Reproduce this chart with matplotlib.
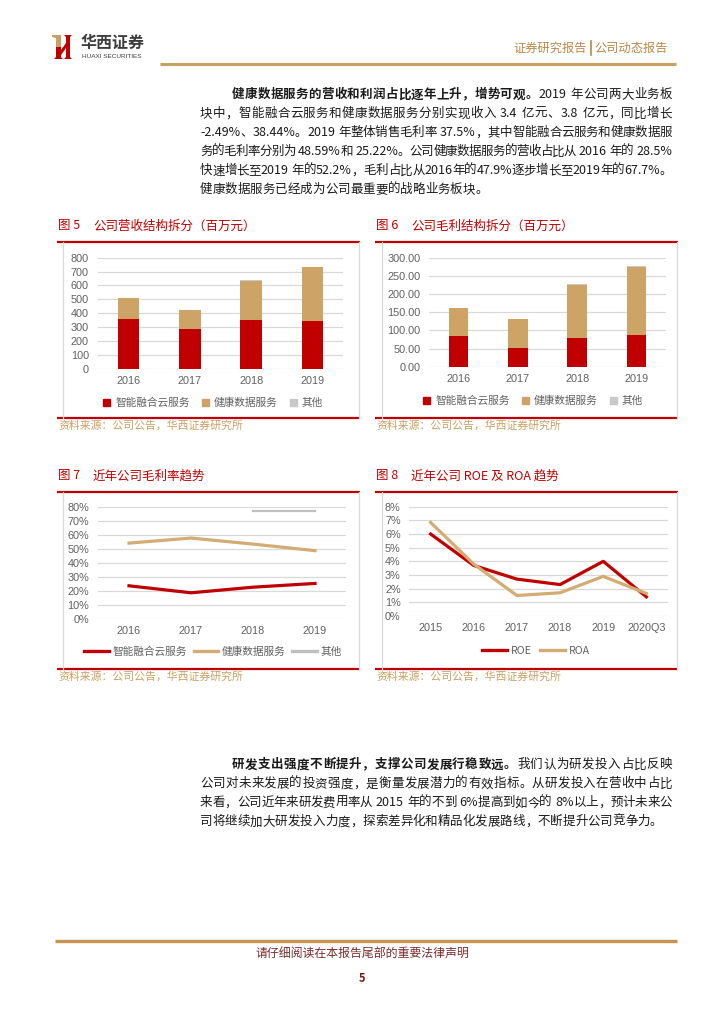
import re
import numpy as np
import matplotlib
matplotlib.use("Agg")
import matplotlib.pyplot as plt
import matplotlib.patches as mpatches
from matplotlib.lines import Line2D

plt.rcParams["font.family"] = ["Noto Sans CJK SC", "DejaVu Sans"]

W, H = 724, 1024
RED = "#C00000"
TAN = "#CDA366"
OTHER = "#C8C8C8"
GOLD = "#C9A063"
TICK = "#606060"
GRID = "#D9D9D9"

# ---- data ----
years4 = ["2016", "2017", "2018", "2019"]
series_names = ["智能融合云服务", "健康数据服务", "其他"]

rev_cloud = [358, 286, 353, 346]
rev_health = [149, 139, 279, 384]
rev_other = [0, 0, 5, 6]

gp_cloud = [83.5, 52.3, 78.9, 86.2]
gp_health = [78.0, 78.7, 146.8, 187.2]
gp_other = [0, 0, 2.0, 3.0]

gm_cloud = [23.5, 18.5, 22.5, 25.2]
gm_health = [54.0, 57.6, 53.3, 48.6]
gm_other = [np.nan, np.nan, 76.8, 76.8]

years6 = ["2015", "2016", "2017", "2018", "2019", "2020Q3"]
roe = [6.0, 3.7, 2.7, 2.3, 4.0, 1.4]
roa = [6.85, 3.8, 1.5, 1.7, 2.9, 1.65]

para1 = [
    [("健康数据服务的营收和利润占比逐年上升，增势可观。", True), ("2019 年公司两大业务板", False)],
    [("块中，智能融合云服务和健康数据服务分别实现收入 3.4 亿元、3.8 亿元，同比增长", False)],
    [("-2.49%、38.44%。2019 年整体销售毛利率 37.5%，其中智能融合云服务和健康数据服", False)],
    [("务的毛利率分别为 48.59%和 25.22%。公司健康数据服务的营收占比从 2016 年的 28.5%", False)],
    [("快速增长至2019 年的52.2%，毛利占比从2016年的47.9%逐步增长至2019年的67.7%。", False)],
    [("健康数据服务已经成为公司最重要的战略业务板块。", False)],
]
para2 = [
    [("研发支出强度不断提升，支撑公司发展行稳致远。", True), ("我们认为研发投入占比反映", False)],
    [("公司对未来发展的投资强度，是衡量发展潜力的有效指标。从研发投入在营收中占比", False)],
    [("来看，公司近年来研发费用率从 2015 年的不到 6%提高到如今的 8%以上，预计未来公", False)],
    [("司将继续加大研发投入力度，探索差异化和精品化发展路线，不断提升公司竞争力。", False)],
]

fig = plt.figure(figsize=(W / 100, H / 100), dpi=100)
ax0 = fig.add_axes([0, 0, 1, 1])
ax0.set_xlim(0, W)
ax0.set_ylim(H, 0)
ax0.axis("off")
renderer = fig.canvas.get_renderer()


def px_axes(x0, y0, x1, y1):
    return fig.add_axes([x0 / W, 1 - y1 / H, (x1 - x0) / W, (y1 - y0) / H])


def text_line(x0, x1, yc, segments, size=9, justify=True):
    toks = []
    for s, bold in segments:
        for t in re.findall(r"[0-9A-Za-z.%\-]+|\s|.", s):
            toks.append((t, bold))
    objs = []
    widths = []
    for t, bold in toks:
        if t.isspace():
            objs.append(None)
            widths.append(size * 100 / 72 * 0.3)
            continue
        o = ax0.text(0, yc + 4.3, t, fontsize=size, va="baseline", ha="left",
                     fontweight="bold" if bold else "normal", color="#1a1a1a")
        objs.append(o)
        widths.append(o.get_window_extent(renderer).width)
    extra = (x1 - x0 - sum(widths)) / max(len(toks) - 1, 1) if justify else 0.0
    x = x0
    for o, w in zip(objs, widths):
        if o is not None:
            o.set_x(x)
        x += w + extra


def paragraph(lines, y0, step=19):
    for i, seg in enumerate(lines):
        x0 = 232 if i == 0 else 200
        last = i == len(lines) - 1
        text_line(x0, 672, y0 + i * step, seg, justify=not last)


def frame(xr0, xb0, x1, ytop, ybot, num, title, tx):
    ax0.plot([xr0, x1], [ytop, ytop], color=RED, lw=1.6, solid_capstyle="butt")
    ax0.plot([xr0, x1], [ybot, ybot], color=RED, lw=1.6, solid_capstyle="butt")
    ax0.plot([xb0, xb0], [ytop, ybot], color=GRID, lw=0.9)
    ax0.plot([x1 - 1, x1 - 1], [ytop, ybot], color=GRID, lw=0.9)
    ax0.text(xr0 + 1, ytop - 16, f"图 {num}", color=RED, fontsize=9, va="center")
    ax0.text(tx, ytop - 16, title, color=RED, fontsize=9, va="center")
    ax0.text(xr0 + 1, ybot + 8, "资料来源：公司公告，华西证券研究所", color=GOLD,
             fontsize=7.8, va="center")


def style(ax, ymax, yticks, labels, ypad):
    ax.set_facecolor("none")
    for s in ax.spines.values():
        s.set_visible(False)
    ax.set_ylim(0, ymax)
    ax.set_yticks(yticks)
    ax.set_yticklabels(labels, family="Liberation Sans")
    ax.grid(axis="y", color=GRID, lw=0.9)
    ax.set_axisbelow(True)
    ax.tick_params(axis="y", length=0, labelsize=7.8, labelcolor=TICK, pad=ypad)
    ax.tick_params(axis="x", length=0, labelsize=7.8, labelcolor=TICK, pad=5)
    for lb in ax.get_xticklabels():
        lb.set_family("Liberation Sans")


def bar_legend(ax, cx, cy):
    h = [mpatches.Patch(color=c, label=n) for c, n in zip([RED, TAN, OTHER], series_names)]
    ax.legend(handles=h, ncol=3, loc="center", bbox_to_anchor=(cx / W, 1 - cy / H),
              bbox_transform=fig.transFigure, frameon=False, fontsize=7.7,
              handlelength=0.65, handleheight=0.65, handletextpad=0.45,
              columnspacing=1.15, labelcolor=TICK)


def line_legend(ax, cx, cy, colors, names, cs):
    h = [Line2D([0], [0], color=c, lw=2.4, label=n) for c, n in zip(colors, names)]
    ax.legend(handles=h, ncol=len(h), loc="center", bbox_to_anchor=(cx / W, 1 - cy / H),
              bbox_transform=fig.transFigure, frameon=False, fontsize=7.7,
              handlelength=2.3, handletextpad=0.35, columnspacing=cs, labelcolor=TICK)


# ---- header ----
ax0.add_patch(mpatches.Polygon([(52, 35), (61, 35), (61, 47), (56, 47), (56, 38), (52, 37)],
                               closed=True, color="#C9A063", lw=0))
ax0.add_patch(mpatches.Polygon([(56, 47), (61, 47), (61, 57), (63, 59), (54, 59), (56, 57)],
                               closed=True, color=RED, lw=0))
ax0.add_patch(mpatches.Polygon([(66, 37), (64, 35), (72, 35), (70, 37), (70, 57), (72, 59),
                                (64, 59), (66, 57)], closed=True, color=RED, lw=0))
ax0.add_patch(mpatches.Polygon([(61, 50), (66, 43), (66, 48), (61, 55)], closed=True,
                               color=RED, lw=0))
ax0.text(81, 43, "华西证券", fontsize=11.5, fontweight="bold", color="#3c3c3c", va="center")
ax0.text(82, 56.5, "HUAXI SECURITIES", fontsize=4.6, color="#3c3c3c", va="center",
         family="Liberation Sans")
ax0.text(513, 48, "证券研究报告", fontsize=8.8, color="#B8884A", va="center")
ax0.plot([591, 591], [41, 55], color="#B8884A", lw=1.2)
ax0.text(594, 48, "公司动态报告", fontsize=8.8, color="#B8884A", va="center")
ax0.plot([160, 676], [64, 64], color="#C9A063", lw=2.2, solid_capstyle="butt")

# ---- paragraphs ----
paragraph(para1, 94)
paragraph(para2, 764)

# ---- figure 5: revenue ----
frame(57, 63, 360, 242, 418, 5, "公司营收结构拆分（百万元）", 93)
ax5 = px_axes(98, 257.7, 343, 368.7)
x = np.arange(len(years4))
ax5.bar(x, rev_cloud, width=0.35, color=RED)
ax5.bar(x, rev_health, width=0.35, bottom=rev_cloud, color=TAN)
ax5.bar(x, rev_other, width=0.35, bottom=np.add(rev_cloud, rev_health), color=OTHER)
ax5.set_xlim(-0.5, 3.5)
ax5.set_xticks(x, years4)
yt = np.arange(0, 801, 100)
style(ax5, 800, yt, [str(v) for v in yt], 6.5)
bar_legend(ax5, 213, 402.7)

# ---- figure 6: gross profit ----
frame(375, 382, 678, 242, 418, 6, "公司毛利结构拆分（百万元）", 411)
ax6 = px_axes(429, 257.7, 666, 366.7)
ax6.bar(x, gp_cloud, width=0.33, color=RED)
ax6.bar(x, gp_health, width=0.33, bottom=gp_cloud, color=TAN)
ax6.bar(x, gp_other, width=0.33, bottom=np.add(gp_cloud, gp_health), color=OTHER)
ax6.set_xlim(-0.5, 3.5)
ax6.set_xticks(x, years4)
yt = np.arange(0, 301, 50)
style(ax6, 300, yt, [f"{v:.2f}" for v in yt], 6)
bar_legend(ax6, 533, 401)

# ---- figure 7: gross margin ----
frame(57, 63, 360, 492, 669, 7, "近年公司毛利率趋势", 93)
ax7 = px_axes(98, 506.7, 346, 618.7)
ax7.plot(x, gm_cloud, color=RED, lw=2.3)
ax7.plot(x, gm_health, color="#D4AC73", lw=2.3)
ax7.plot(x, gm_other, color="#BFBFBF", lw=1.6)
ax7.set_xlim(-0.5, 3.5)
ax7.set_xticks(x, years4)
yt = np.arange(0, 81, 10)
style(ax7, 80, yt, [f"{v}%" for v in yt], 6.5)
line_legend(ax7, 213, 651.7, [RED, "#D4AC73", "#BFBFBF"], series_names, 0.6)

# ---- figure 8: ROE / ROA ----
frame(375, 382, 678, 492, 669, 8, "近年公司 ROE 及 ROA 趋势", 411)
ax8 = px_axes(409, 506.7, 668, 616)
x6 = np.arange(len(years6))
ax8.plot(x6, roe, color=RED, lw=2.3)
ax8.plot(x6, roa, color="#D4AC73", lw=2.3)
ax8.set_xlim(-0.5, 5.5)
ax8.set_xticks(x6, years6)
yt = np.arange(0, 9, 1)
style(ax8, 8, yt, [f"{v}%" for v in yt], 6)
line_legend(ax8, 536, 650.7, [RED, "#D4AC73"], ["ROE", "ROA"], 0.8)

# ---- footer ----
ax0.plot([55, 677], [941, 941], color="#C9924F", lw=2.4, solid_capstyle="butt")
ax0.text(362, 954, "请仔细阅读在本报告尾部的重要法律声明", fontsize=8.6, color="#7B2A2A",
         ha="center", va="center")
ax0.text(362, 978, "5", fontsize=8, color="#7B1E1E", ha="center", va="center",
         fontweight="bold", style="italic")

fig.savefig("out.png", dpi=100)
